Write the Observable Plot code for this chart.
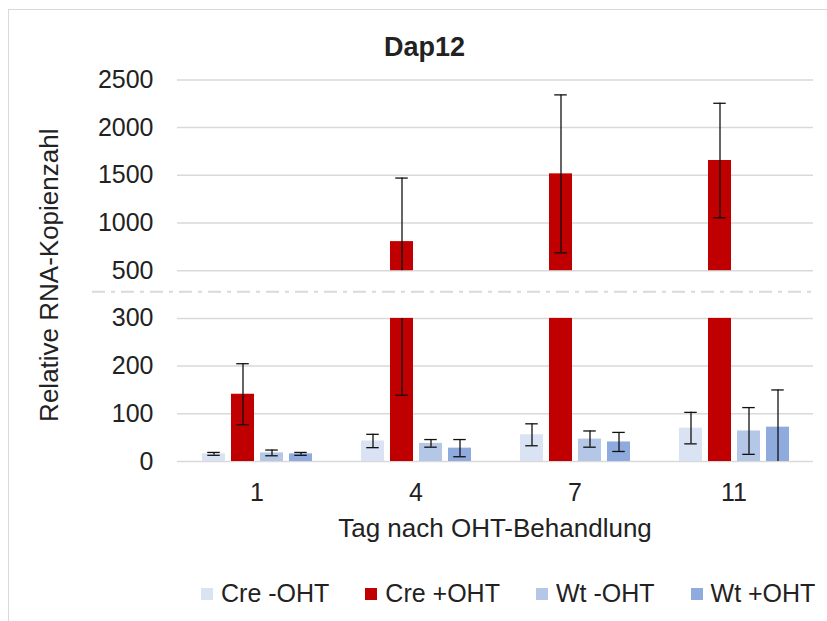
<!DOCTYPE html>
<html>
<head>
<meta charset="utf-8">
<script src="https://cdn.jsdelivr.net/npm/d3@7"></script>
<script src="https://cdn.jsdelivr.net/npm/@observablehq/plot@0.6"></script>
<style>
  html, body { margin: 0; padding: 0; background: #fff; overflow: hidden; }
  #wrap { position: relative; width: 827px; height: 621px; overflow: hidden;
          font-family: "Liberation Sans", Arial, sans-serif; color: #222; }
  #frame { position: absolute; left: 8px; top: 9px; width: 900px; height: 700px;
           border-left: 1.5px solid #d9d9d9; border-top: 1.5px solid #d9d9d9; z-index: 2; pointer-events: none; }
  #title { position: absolute; left: 8px; width: 833px; top: 34px; text-align: center;
           font-weight: bold; font-size: 27px; line-height: 1; z-index: 3; }
  #chart { position: absolute; left: 0; top: 0; }
  #legend { position: absolute; left: 201px; top: 581px; font-size: 25px; line-height: 1;
            white-space: nowrap; }
  #legend .item { display: inline-block; margin-right: 36px; }
  #legend .item:last-child { margin-right: 0; }
  #legend .sw { display: inline-block; width: 12px; height: 12px; margin-right: 8px;
                margin-bottom: 2px; vertical-align: baseline; }
</style>
</head>
<body>
<div id="wrap">
  <div id="frame"></div>
  <div id="chart"></div>
  <div id="title">Dap12</div>
  <div id="legend"></div>
</div>
<script>
// ---- data ----
const days = ["1", "4", "7", "11"];
const series = ["Cre -OHT", "Cre +OHT", "Wt -OHT", "Wt +OHT"];
const colors = ["#dae3f3", "#c00000", "#b4c7e7", "#8faadc"];

const creMinus = [16, 43, 56, 70];
const crePlus  = [141, 805, 1515, 1655];
const wtMinus  = [18, 38, 47, 64];
const wtPlus   = [16, 28, 41, 72];

const creMinusErr = [3, 14, 23, 33];
const crePlusErr  = [64, 666, 828, 600];
const wtMinusErr  = [6, 8, 17, 49];
const wtPlusErr   = [3, 18, 20, 78];

const lowerTicks = [0, 100, 200, 300];         // lower panel ticks
const upperTicks = [500, 1000, 1500, 2000, 2500]; // upper panel ticks
const yTicks = lowerTicks.concat(upperTicks);

const yTitle = "Relative RNA-Kopienzahl";
const xTitle = "Tag nach OHT-Behandlung";

// ---- broken axis: map a raw value onto evenly spaced tick slots ----
const lowerMax = lowerTicks[lowerTicks.length - 1];
const upperMin = upperTicks[0];
const lowerStep = lowerTicks[1] - lowerTicks[0];
const upperStep = upperTicks[1] - upperTicks[0];
const slotsLower = lowerTicks.length - 1;          // 3
const toSlot = v => v <= lowerMax
  ? v / lowerStep
  : slotsLower + 1 + (v - upperMin) / upperStep;   // 500 -> slot 4
const slotMax = toSlot(upperTicks[upperTicks.length - 1]);
const breakSlot = slotsLower + 0.55;               // dashed break line

// ---- build table ----
const valuesBySeries = [creMinus, crePlus, wtMinus, wtPlus];
const errBySeries = [creMinusErr, crePlusErr, wtMinusErr, wtPlusErr];
const rows = [];
days.forEach((day, i) => {
  series.forEach((s, j) => {
    rows.push({day, series: s, value: valuesBySeries[j][i], err: errBySeries[j][i]});
  });
});

// error bar segments, split across the axis break
const segs = [];
const caps = [];
for (const d of rows) {
  const lo = d.value - d.err, hi = d.value + d.err;
  const l1 = Math.max(0, lo), h1 = Math.min(hi, lowerMax);
  if (l1 < lowerMax) segs.push({day: d.day, series: d.series, y1: l1, y2: h1});
  if (hi > upperMin) segs.push({day: d.day, series: d.series, y1: Math.max(upperMin, lo), y2: hi});
  caps.push({day: d.day, series: d.series, y: hi});
  if (lo >= 0) caps.push({day: d.day, series: d.series, y: lo});
}

// ---- layout ----
const W = 827, H = 560;
const mLeft = 177, mRight = 14, mTop = 79.4, mBottom = 99;

const chart = Plot.plot({
  width: W,
  height: H,
  marginLeft: mLeft,
  marginRight: mRight,
  marginTop: mTop,
  marginBottom: mBottom,
  style: {background: "transparent", fontFamily: "Liberation Sans, Arial, sans-serif", fontSize: "25px", color: "#222"},
  fx: {domain: days, padding: 0, tickSize: 0, tickPadding: 22, label: null},
  x: {domain: series, paddingInner: 0.224, paddingOuter: 0.853, axis: null},
  y: {domain: [0, slotMax], ticks: yTicks.map(toSlot), tickFormat: (s, i) => String(yTicks[i]),
      tickSize: 0, tickPadding: 24, label: null},
  color: {domain: series, range: colors},
  marks: [
    Plot.ruleY(yTicks, {y: toSlot, stroke: "#d9d9d9", strokeWidth: 1.5}),
    Plot.barY(rows, {fx: "day", x: "series", y1: 0, y2: d => toSlot(Math.min(d.value, lowerMax)), fill: "series"}),
    Plot.barY(rows.filter(d => d.value > upperMin), {fx: "day", x: "series", y1: toSlot(upperMin), y2: d => toSlot(d.value), fill: "series"}),
    Plot.ruleX(segs, {fx: "day", x: "series", y1: d => toSlot(d.y1), y2: d => toSlot(d.y2), stroke: "#111", strokeWidth: 1.3}),
    Plot.tickY(caps, {fx: "day", x: "series", y: d => toSlot(d.y), stroke: "#111", strokeWidth: 1.3, insetLeft: 5.25, insetRight: 5.25})
  ]
});
document.getElementById("chart").appendChild(chart);

// ---- axis break line, axis titles (placed with the chart's scales) ----
const ys = chart.scale("y");
const fxs = chart.scale("fx");
const svg = d3.select(chart);
const y0 = ys.apply(0), yTop = ys.apply(slotMax);
const yb = ys.apply(breakSlot);
svg.append("line")
  .attr("x1", mLeft - 85).attr("x2", W - mRight)
  .attr("y1", yb).attr("y2", yb)
  .attr("stroke", "#d9d9d9").attr("stroke-width", 2)
  .attr("stroke-dasharray", "13,6,4,6");

const yMid = (y0 + yTop) / 2 + 5;
svg.append("text")
  .attr("transform", `translate(${mLeft - 119},${yMid}) rotate(-90)`)
  .attr("text-anchor", "middle")
  .attr("fill", "#222")
  .style("font-size", "26px")
  .text(yTitle);

const xMid = (fxs.range[0] + fxs.range[1]) / 2;
svg.append("text")
  .attr("x", xMid).attr("y", y0 + 76)
  .attr("text-anchor", "middle")
  .attr("fill", "#222")
  .style("font-size", "26px")
  .text(xTitle);

// ---- legend ----
const legend = document.getElementById("legend");
series.forEach((s, i) => {
  const item = document.createElement("span");
  item.className = "item";
  const sw = document.createElement("span");
  sw.className = "sw";
  sw.style.background = colors[i];
  item.appendChild(sw);
  item.appendChild(document.createTextNode(s));
  legend.appendChild(item);
});
</script>
</body>
</html>
